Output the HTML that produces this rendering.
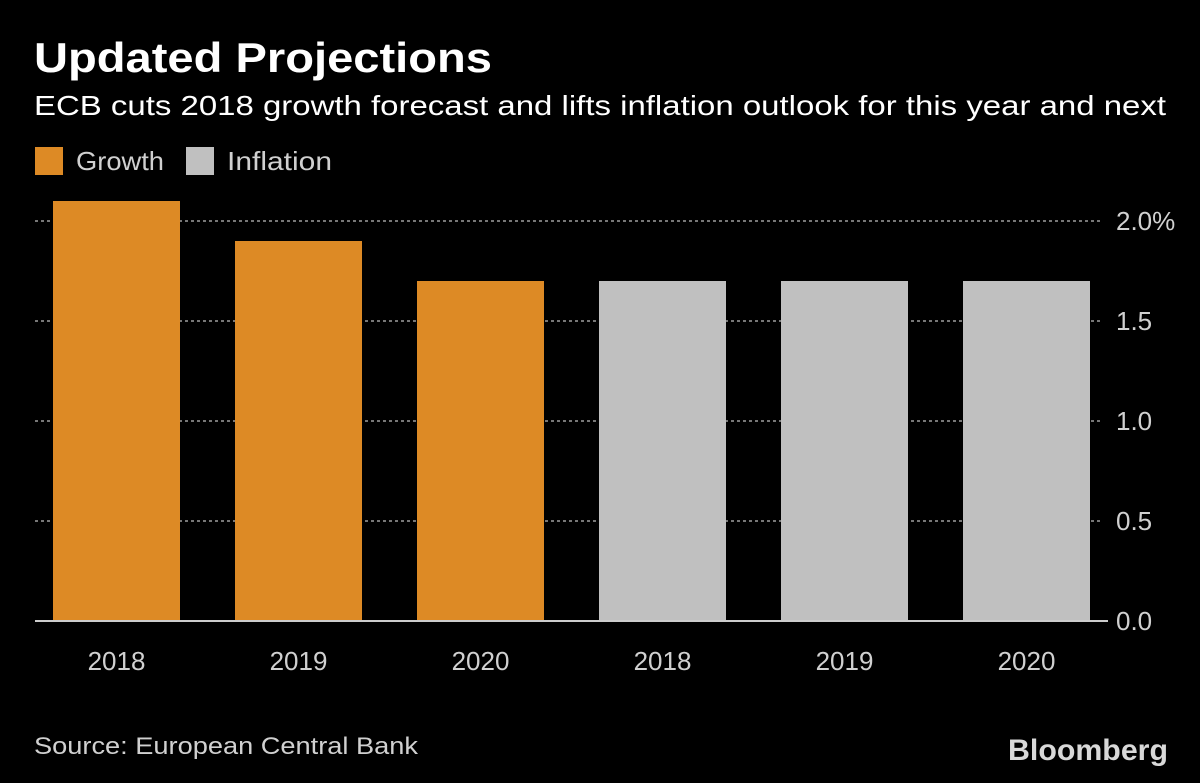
<!DOCTYPE html>
<html><head><meta charset="utf-8"><style>
html,body{margin:0;padding:0;background:#000;}
svg{display:block;font-family:"Liberation Sans",sans-serif;}
</style></head><body>
<svg id="chart" width="1200" height="783" viewBox="0 0 1200 783">
<rect width="1200" height="783" fill="#000"/>
<text x="34" y="72" font-size="42" font-weight="bold" fill="#fff" textLength="458" lengthAdjust="spacingAndGlyphs">Updated Projections</text>
<text x="34" y="115" font-size="28" fill="#fff" textLength="1132" lengthAdjust="spacingAndGlyphs">ECB cuts 2018 growth forecast and lifts inflation outlook for this year and next</text>
<g>
<rect x="35" y="147" width="28" height="28" fill="#dd8a25"/>
<text x="76" y="170" font-size="26" fill="#d0d0d0" textLength="88" lengthAdjust="spacingAndGlyphs">Growth</text>
<rect x="186" y="147" width="28" height="28" fill="#c0c0c0"/>
<text x="227" y="170" font-size="26" fill="#d0d0d0" textLength="105" lengthAdjust="spacingAndGlyphs">Inflation</text>
</g>
<g id="grid"></g><g id="bars"></g><g id="xlabels"></g><g id="ylabels"></g>
<line x1="35" y1="621" x2="1108" y2="621" stroke="#ccc" stroke-width="2"/>
<text x="34" y="754" font-size="24" fill="#d0d0d0" textLength="384" lengthAdjust="spacingAndGlyphs">Source: European Central Bank</text>
<text x="1168" y="760" font-size="30" font-weight="bold" fill="#d8d8d8" text-anchor="end" textLength="160" lengthAdjust="spacingAndGlyphs">Bloomberg</text>
</svg>
<script>
const categories = ["2018","2019","2020","2018","2019","2020"];
const series = ["growth","growth","growth","inflation","inflation","inflation"];
const values = [2.1,1.9,1.7,1.7,1.7,1.7];
const ticks = [0,0.5,1.0,1.5,2.0];
const tickLabels = ["0.0","0.5","1.0","1.5","2.0%"];
const NS="http://www.w3.org/2000/svg";
const y = v => 621 - v*200;
const x = i => 53 + i*182;
const bw = 127;
const colors = {growth:"#dd8a25", inflation:"#c0c0c0"};
const grid=document.getElementById('grid'), bars=document.getElementById('bars'), xl=document.getElementById('xlabels'), yl=document.getElementById('ylabels');
ticks.forEach((t,i)=>{
  if(t>0){
    const l=document.createElementNS(NS,'line');
    l.setAttribute('x1',35);l.setAttribute('x2',1100);l.setAttribute('y1',y(t));l.setAttribute('y2',y(t));
    l.setAttribute('stroke','#777');l.setAttribute('stroke-width','2');l.setAttribute('stroke-dasharray','3 3');
    
    
    grid.appendChild(l);
  }
  const tx=document.createElementNS(NS,'text');
  tx.setAttribute('x',1116);tx.setAttribute('y',y(t)+9);tx.setAttribute('font-size','26');tx.setAttribute('fill','#d0d0d0');
  tx.textContent=tickLabels[i];
  
  
  yl.appendChild(tx);
});
values.forEach((v,i)=>{
  const r=document.createElementNS(NS,'rect');
  r.setAttribute('x',x(i));r.setAttribute('y',y(v));r.setAttribute('width',bw);r.setAttribute('height',y(0)-y(v));
  r.setAttribute('fill',colors[series[i]]);
  
  
  bars.appendChild(r);
  const t=document.createElementNS(NS,'text');
  t.setAttribute('x',x(i)+bw/2);t.setAttribute('y',670);t.setAttribute('font-size','26');t.setAttribute('fill','#d0d0d0');t.setAttribute('text-anchor','middle');
  t.textContent=categories[i];
  
  
  xl.appendChild(t);
});
</script>
</body></html>
